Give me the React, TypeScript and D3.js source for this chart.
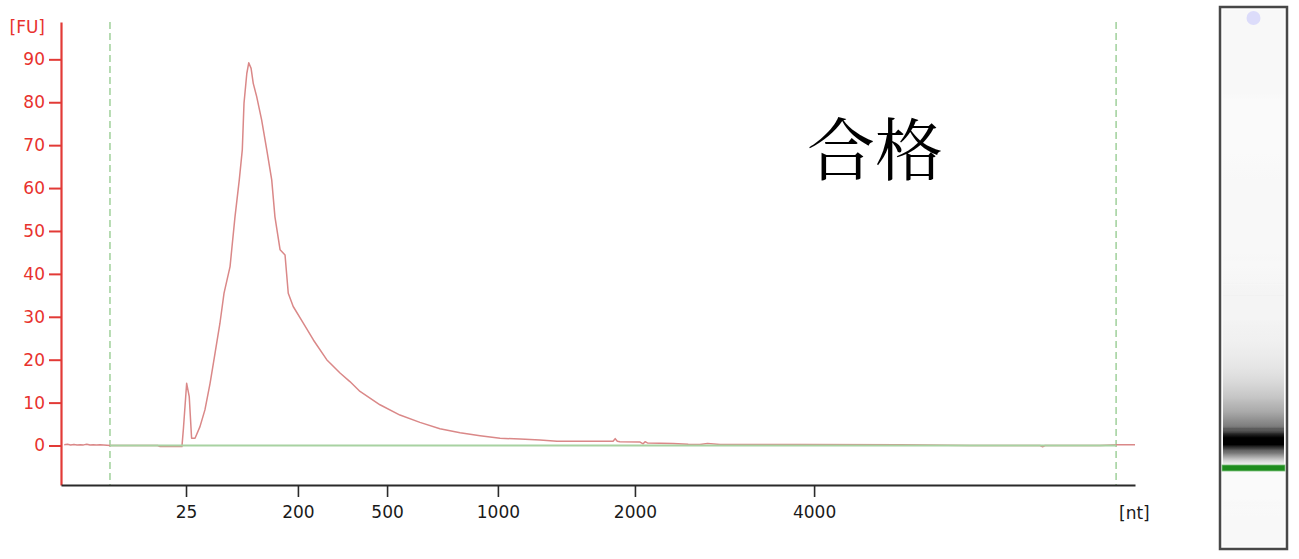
import React, { useEffect, useRef } from "react";
import * as d3 from "d3";

const W = 1299;
const H = 559;

// Electropherogram trace: migration time (s) and fluorescence (FU)
const traceTime = [
  19.15, 19.3, 19.45, 19.6, 19.75, 19.9, 20.05, 20.2, 20.35, 20.5, 20.65, 20.82,
  21.3, 23.5, 23.61, 24.63, 24.7, 24.85, 24.97, 25.08, 25.24, 25.47, 25.7, 25.94,
  26.17, 26.4, 26.59, 26.87, 27.1, 27.3, 27.44, 27.52, 27.65, 27.74, 27.85, 27.95,
  28.11, 28.34, 28.58, 28.81, 28.96, 29.2, 29.43, 29.58, 29.81, 30.28, 30.75, 31.37,
  31.99, 32.45, 32.92, 33.85, 34.78, 35.71, 36.64, 37.58, 38.51, 39.44, 40.37, 41.3,
  42.09, 42.84, 43.63, 44.7, 44.8, 44.9, 45.02, 45.96, 46.1, 46.19, 46.3, 47.49,
  48.2, 48.75, 49.1, 49.68, 50.15, 51.54, 53.4, 58.06, 61.32, 64.58, 64.7, 64.81,
  65.0, 67.37, 68.2, 69.0,
];
const traceFU = [
  0.2, 0.3, 0.1, 0.25, 0.1, 0.2, 0.15, 0.3, 0.1, 0.2, 0.1, 0.2,
  0.0, 0.0, -0.25, -0.25, 4.0, 14.5, 11.4, 1.7, 1.7, 4.4, 8.3, 14.5,
  21.5, 28.5, 35.5, 41.7, 53.3, 61.9, 68.9, 79.8, 86.7, 89.2, 87.9, 84.4,
  81.3, 75.9, 68.9, 61.9, 53.3, 45.6, 44.4, 35.5, 32.4, 28.5, 24.6, 20.0,
  16.9, 14.9, 12.6, 9.5, 7.1, 5.4, 3.9, 3.0, 2.3, 1.7, 1.5, 1.3,
  1.0, 1.0, 1.0, 1.0, 1.6, 1.0, 0.9, 0.8, 0.4, 0.9, 0.6, 0.5,
  0.3, 0.25, 0.5, 0.25, 0.25, 0.25, 0.25, 0.2, 0.0, 0.0, -0.3, 0.0,
  0.0, 0.0, 0.2, 0.2,
];

const yTicks = [0, 10, 20, 30, 40, 50, 60, 70, 80, 90];
const ladderLabels = ["25", "200", "500", "1000", "2000", "4000"];
const ladderTime = [24.82, 30.03, 34.18, 39.34, 45.72, 54.06];
const windowTimes = [21.28, 68.12];
const markerTime = 24.85;
const baselineFU = 0;
const titleText = "合格";
const yUnit = "[FU]";
const xUnit = "[nt]";

const FONT = "'DejaVu Sans', Verdana, sans-serif";

export default function App() {
  const xAxisRef = useRef<SVGGElement>(null);
  const yAxisRef = useRef<SVGGElement>(null);

  const x = d3.scaleLinear().domain([19, 69]).range([61, 1135]);
  const y = d3.scaleLinear().domain([-9.2, 98.7]).range([485, 22]);

  const peakIdx = d3.maxIndex(traceFU);
  const peakTime = traceTime[peakIdx];

  // gel lane geometry
  const laneX0 = 1220;
  const laneX1 = 1287;
  const laneTop = 7;
  const laneBottom = 549;
  const gelY = d3.scaleLinear().domain([markerTime, peakTime]).range([468, 443]);
  const dark = d3.scalePow().exponent(0.85).domain([0, 76]).range([0, 1]).clamp(true);

  const stops = traceTime
    .map((t, i) => {
      const off = (gelY(t) - laneTop) / (laneBottom - laneTop);
      const d = dark(Math.max(0, traceFU[i]));
      const g = Math.round(250 * (1 - d));
      return { off: Math.max(0, Math.min(1, off)), color: `rgb(${g},${g},${g})` };
    })
    .sort((a, b) => a.off - b.off);

  const line = d3
    .line<number>()
    .x((_, i) => x(traceTime[i]))
    .y((d) => y(d));

  useEffect(() => {
    if (yAxisRef.current) {
      const g = d3.select(yAxisRef.current);
      g.call(d3.axisLeft(y).tickValues(yTicks).tickSize(12).tickSizeOuter(0).tickPadding(4));
      g.attr("font-family", FONT).attr("font-size", 17);
      g.select(".domain").attr("stroke", "#e23a36").attr("stroke-width", 2.2);
      g.selectAll(".tick line").attr("stroke", "#e23a36").attr("stroke-width", 2);
      g.selectAll(".tick text").attr("fill", "#e8322e");
    }
    if (xAxisRef.current) {
      const g = d3.select(xAxisRef.current);
      g.call(
        d3
          .axisBottom(x)
          .tickValues(ladderTime)
          .tickFormat((_, i) => ladderLabels[i])
          .tickSize(12)
          .tickSizeOuter(0)
          .tickPadding(9)
      );
      g.attr("font-family", FONT).attr("font-size", 17);
      g.select(".domain").attr("stroke", "#2a2a2a").attr("stroke-width", 2.2);
      g.selectAll(".tick line").attr("stroke", "#2a2a2a").attr("stroke-width", 1.6);
      g.selectAll(".tick text").attr("fill", "#1a1a1a");
    }
  });

  return (
    <svg
      width={W}
      height={H}
      style={{ position: "absolute", left: 0, top: 0, background: "#fff" }}
    >
      <defs>
        <linearGradient id="gel" gradientUnits="userSpaceOnUse" x1={0} x2={0} y1={laneTop} y2={laneBottom}>
          {stops.map((s, i) => (
            <stop key={i} offset={s.off} stopColor={s.color} />
          ))}
        </linearGradient>
      </defs>

      {/* window dashed lines */}
      {windowTimes.map((t, i) => (
        <line
          key={i}
          x1={x(t)}
          x2={x(t)}
          y1={y.range()[1]}
          y2={y.range()[0]}
          stroke="#9fd09a"
          strokeWidth={1.5}
          strokeDasharray="7,4"
        />
      ))}

      {/* trace */}
      <path d={line(traceFU) || ""} fill="none" stroke="#da8888" strokeWidth={1.5} strokeLinejoin="round" />

      {/* baseline */}
      <line
        x1={x(windowTimes[0])}
        x2={x(windowTimes[1])}
        y1={y(baselineFU)}
        y2={y(baselineFU)}
        stroke="#a8d2a2"
        strokeWidth={1.8}
      />

      <g ref={yAxisRef} transform={`translate(${x.range()[0]},0)`} />
      <g ref={xAxisRef} transform={`translate(0,${y.range()[0]})`} />

      <text x={45} y={27} textAnchor="end" dominantBaseline="central" fill="#e8322e" fontFamily={FONT} fontSize={17}>
        {yUnit}
      </text>
      <text x={1119} y={513} dominantBaseline="central" fill="#1a1a1a" fontFamily={FONT} fontSize={17}>
        {xUnit}
      </text>

      <text
        x={875}
        y={145}
        textAnchor="middle"
        dominantBaseline="central"
        fill="#000"
        fontFamily="'Noto Serif CJK SC', 'Noto Sans CJK SC', serif"
        fontSize={68}
      >
        {titleText}
      </text>

      {/* gel lane */}
      <rect x={laneX0} y={laneTop} width={laneX1 - laneX0} height={laneBottom - laneTop} fill="#fdfdfd" stroke="#484848" strokeWidth={2.5} />
      <rect x={laneX0 + 3} y={laneTop + 3} width={laneX1 - laneX0 - 6} height={laneBottom - laneTop - 6} fill="url(#gel)" />
      <rect
        x={laneX0 + 2}
        y={gelY(markerTime) - 3}
        width={laneX1 - laneX0 - 4}
        height={6}
        fill="#1e8c1e"
        stroke="#7cc07c"
        strokeWidth={0.8}
      />
      <circle cx={(laneX0 + laneX1) / 2} cy={18} r={7} fill="#dcdcfa" />
    </svg>
  );
}
